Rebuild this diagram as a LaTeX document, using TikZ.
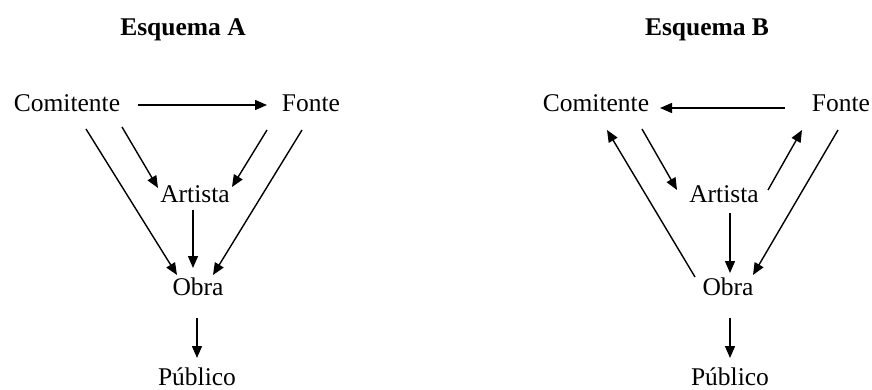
\documentclass[tikz,border=0pt]{standalone}
\usepackage{fontspec}
\setmainfont{Liberation Serif}
\usetikzlibrary{arrows.meta}
\begin{document}
\begin{tikzpicture}[x=1pt,y=-1pt,
  lbl/.style={anchor=base,inner sep=0pt,font=\fontsize{25.5}{28}\selectfont},
  ttl/.style={anchor=base,inner sep=0pt,font=\fontsize{25.5}{28}\selectfont\bfseries},
  arr/.style={line width=1.4pt,-{Triangle[length=12pt,width=10pt]}}]
\useasboundingbox (0,0) rectangle (872,390);

% Scheme A
\node[ttl] (tA) at (183,36) {Esquema A};
\node[lbl] (comA) at (67,112) {Comitente};
\node[lbl] (fonA) at (311,112) {Fonte};
\node[lbl] (artA) at (195,203) {Artista};
\node[lbl] (obrA) at (198,295) {Obra};
\node[lbl] (pubA) at (197,385) {Público};

\draw[arr] ([shift={(71,-7)}]comA.base) -- ([shift={(-44,-7)}]fonA.base);
\draw[arr] ([shift={(55,15)}]comA.base) -- ([shift={(-37,-15)}]artA.base);
\draw[arr] ([shift={(19,17)}]comA.base) -- ([shift={(-21,-20)}]obrA.base);
\draw[arr] ([shift={(-44,18)}]fonA.base) -- ([shift={(37,-16)}]artA.base);
\draw[arr] ([shift={(-9,18)}]fonA.base) -- ([shift={(15,-20)}]obrA.base);
\draw[arr] ([shift={(-2,7)}]artA.base) -- ([shift={(-5,-27)}]obrA.base);
\draw[arr] ([shift={(-1,23)}]obrA.base) -- ([shift={(0,-27)}]pubA.base);

% Scheme B
\node[ttl] (tB) at (707,36) {Esquema B};
\node[lbl] (comB) at (596,112) {Comitente};
\node[lbl] (fonB) at (841,112) {Fonte};
\node[lbl] (artB) at (724,203) {Artista};
\node[lbl] (obrB) at (728,295) {Obra};
\node[lbl] (pubB) at (730,385) {Público};

\draw[arr] ([shift={(-56,-4)}]fonB.base) -- ([shift={(64,-4)}]comB.base);
\draw[arr] ([shift={(46,17)}]comB.base) -- ([shift={(-47,-13)}]artB.base);
\draw[arr] ([shift={(-33,-18)}]obrB.base) -- ([shift={(11,18)}]comB.base);
\draw[arr] ([shift={(44,-13)}]artB.base) -- ([shift={(-39,18)}]fonB.base);
\draw[arr] ([shift={(-3,18)}]fonB.base) -- ([shift={(25,-20)}]obrB.base);
\draw[arr] ([shift={(6,10)}]artB.base) -- ([shift={(2,-22)}]obrB.base);
\draw[arr] ([shift={(2,23)}]obrB.base) -- ([shift={(0,-27)}]pubB.base);
\end{tikzpicture}
\end{document}
